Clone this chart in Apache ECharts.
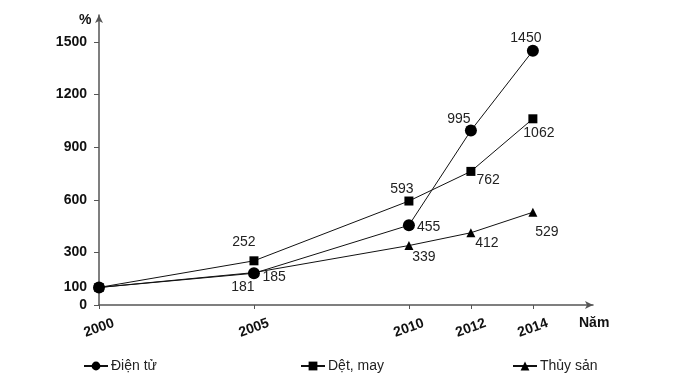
<!DOCTYPE html>
<html><head><meta charset="utf-8">
<script src="https://cdn.jsdelivr.net/npm/echarts@6/dist/echarts.min.js"></script>
<style>html,body{margin:0;padding:0;background:#fff}#c{width:674px;height:391px}</style>
</head><body><div id="c"></div>
<script>
const years = [2000, 2005, 2010, 2012, 2014];
const yTicks = [0, 100, 300, 600, 900, 1200, 1500];
const dienTu = [100, 181, 455, 995, 1450];
const detMay = [100, 252, 593, 762, 1062];
const thuySan = [100, 185, 339, 412, 529];
const names = ['Điện tử', 'Dệt, may', 'Thủy sản'];

const F = 'Liberation Sans, Arial, sans-serif';
function mk(vals, labelCfg) {
  return vals.map((v, i) => {
    const c = labelCfg[i];
    const o = { value: [years[i], v] };
    if (c) o.label = { show: true, position: c.pos, offset: c.off || [0, 0] };
    else o.label = { show: false };
    return o;
  });
}
const base = { type: 'line', lineStyle: { color: '#111', width: 1 }, itemStyle: { color: '#000' },
  label: { color: '#222', fontFamily: F, fontSize: 14, formatter: p => String(p.value[1]) }, z: 3, animation: false };
const chart = echarts.init(document.getElementById('c'));
chart.setOption({
  animation: false,
  grid: { left: 99, right: 81, top: 15, bottom: 86 },
  xAxis: { type: 'value', min: 2000, max: 2015.94,
    axisLine: { lineStyle: { color: '#555', width: 1.5 }, symbol: ['none', 'arrow'], symbolSize: [6, 8] },
    axisTick: { show: true, customValues: years, length: 4, inside: false, lineStyle: { color: '#555' } },
    splitLine: { show: false },
    axisLabel: { customValues: years, formatter: v => String(v), rotate: 20, fontWeight: 'bold', fontSize: 14, fontFamily: F, color: '#111', margin: 23, align: 'center', verticalAlign: 'middle' } },
  yAxis: { type: 'value', min: 0, max: 1654,
    axisLine: { show: true, lineStyle: { color: '#555', width: 1.5 }, symbol: ['none', 'arrow'], symbolSize: [6, 8] },
    axisTick: { show: true, customValues: yTicks, length: 5, lineStyle: { color: '#555' } },
    splitLine: { show: false },
    axisLabel: { customValues: yTicks, formatter: v => String(v), fontWeight: 'bold', fontSize: 14, fontFamily: F, color: '#111', margin: 12 } },
  legend: [
    { data: [names[0]], left: 78, top: 354 },
    { data: [names[1]], left: 295, top: 354 },
    { data: [names[2]], left: 507, top: 354 }
  ].map(l => Object.assign(l, { itemWidth: 24, itemHeight: 11, itemGap: 4, textStyle: { fontFamily: F, fontSize: 14, color: '#222', padding: [0, 0, 0, -2] } })),
  graphic: [
    { type: 'text', left: 79, top: 13, style: { text: '%', font: 'bold 14px ' + F, fill: '#111' } },
    { type: 'text', left: 579, top: 316, style: { text: 'Năm', font: 'bold 14px ' + F, fill: '#111' } }
  ],
  series: [
    Object.assign({}, base, { name: names[1], symbol: 'rect', symbolSize: 9,
      data: mk(detMay, [null, { pos: 'top', off: [-10, -2] }, { pos: 'top', off: [-7, 5] }, { pos: 'right', off: [-4, 9] }, { pos: 'bottom', off: [6, -2] }]) }),
    Object.assign({}, base, { name: names[2], symbol: 'triangle', symbolSize: 9,
      data: mk(thuySan, [null, { pos: 'right', off: [-1, 5] }, { pos: 'bottom', off: [15, -5] }, { pos: 'bottom', off: [16, -6] }, { pos: 'bottom', off: [14, 3] }]) }),
    Object.assign({}, base, { name: names[0], symbol: 'circle', symbolSize: 12,
      data: mk(dienTu, [null, { pos: 'bottom', off: [-11, -4] }, { pos: 'right', off: [-3, 2] }, { pos: 'top', off: [-12, 7] }, { pos: 'top', off: [-7, 5] }]) })
  ]
});
</script></body></html>
